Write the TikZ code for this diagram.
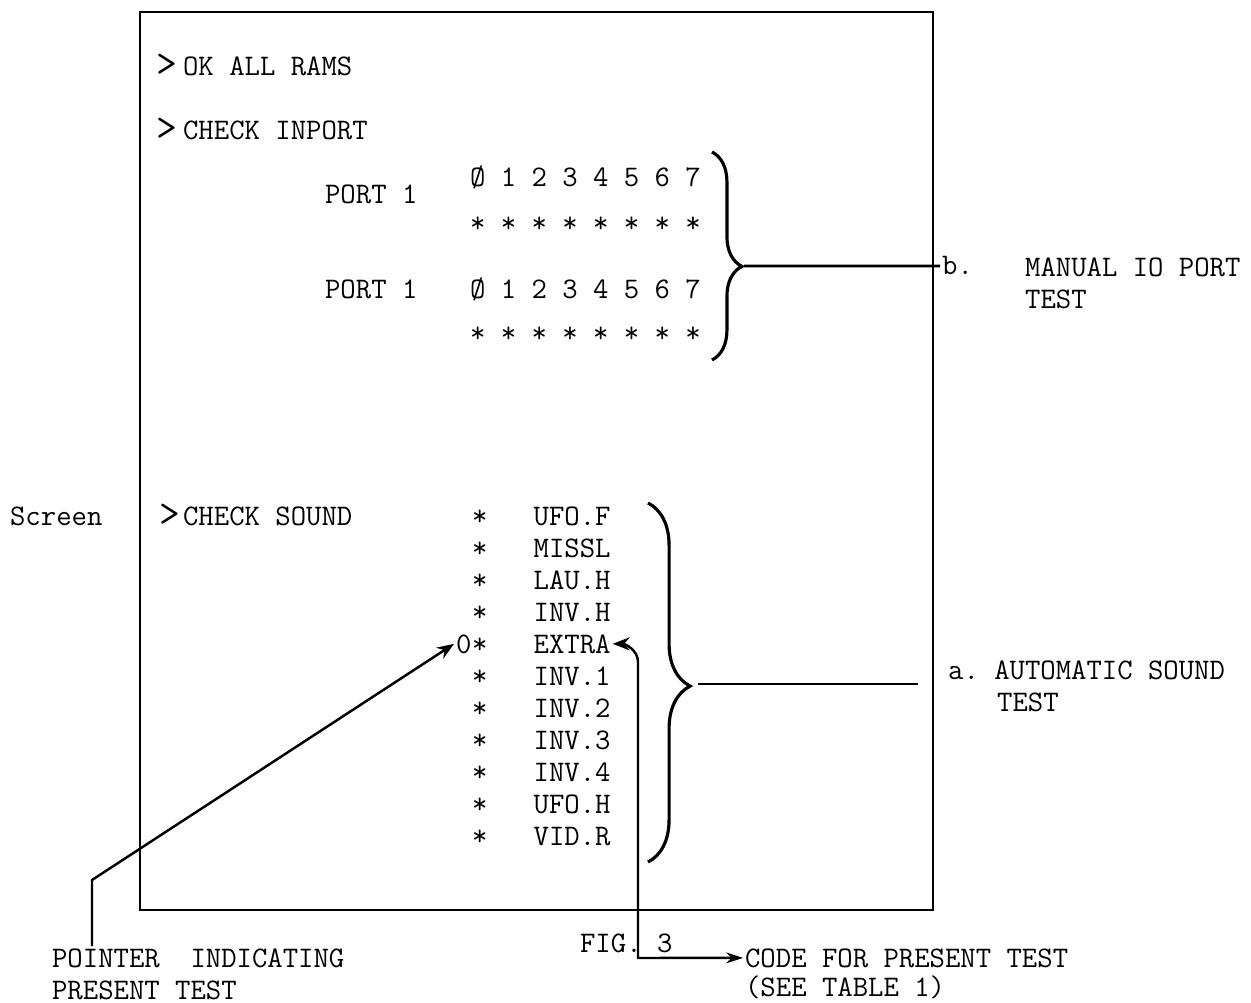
\documentclass[tikz,border=0pt]{standalone}
\usepackage{tikz}
\usetikzlibrary{arrows.meta,decorations.pathreplacing}
\tikzset{
    txt/.style={anchor=base west, inner sep=1pt,
        font=\fontsize{17}{20}\selectfont\ttfamily},
    prompt/.style={txt, font=\fontsize{23}{24}\selectfont\ttfamily},
    screenframe/.style={draw=black, line width=1.4pt},
    lead/.style={draw=black, line width=1.5pt},
    flow/.style={-{Stealth[length=3.4mm,width=2.6mm]}, line width=1.4pt},
    twoway/.style={{Stealth[length=3.4mm,width=2.2mm]}-{Stealth[length=3.4mm,width=2.6mm]}, line width=1.4pt},
    curly/.style={decorate, decoration={brace, amplitude=#1, aspect=0.55}, line width=1.8pt},
    curly/.default=17pt
}

\begin{document}
\begin{tikzpicture}[x=0.02cm,y=-0.02cm]
        \useasboundingbox (0,0) rectangle (1251,1003);
        \draw[screenframe] (140,12) rectangle (933,910);
        % screen contents
        \node[prompt] at (154,77) (okgt) {>};
        \node[txt] at (181,76) (ok) {OK ALL RAMS};
        \node[prompt] at (154,141) (inportgt) {>};
        \node[txt] at (181,140) (inport) {CHECK INPORT};
        \node[txt] at (323,204) (porta) {PORT 1};
        \node[txt] at (468,187) (bitsa) {Ø 1 2 3 4 5 6 7};
        \node[txt] at (468,233) (starsa) {* * * * * * * *};
        \node[txt] at (323,299) (portb) {PORT 1};
        \node[txt] at (468,299) (bitsb) {Ø 1 2 3 4 5 6 7};
        \node[txt] at (468,343) (starsb) {* * * * * * * *};
        \node[txt] at (8,525) (screen) {Screen};
        \node[prompt] at (157,526) (soundgt) {>};
        \node[txt] at (181,525) (sound) {CHECK SOUND};
        \node[txt] at (470,525) (ufof) {*\ \ \ UFO.F};
        \node[txt] at (470,557) (missl) {*\ \ \ MISSL};
        \node[txt] at (470,589) (lauh) {*\ \ \ LAU.H};
        \node[txt] at (470,621) (invh) {*\ \ \ INV.H};
        \node[txt] at (454,653) (zero) {0};
        \node[txt] at (470,653) (extra) {*\ \ \ EXTRA};
        \node[txt] at (470,685) (inva) {*\ \ \ INV.1};
        \node[txt] at (470,717) (invb) {*\ \ \ INV.2};
        \node[txt] at (470,749) (invc) {*\ \ \ INV.3};
        \node[txt] at (470,781) (invd) {*\ \ \ INV.4};
        \node[txt] at (470,813) (ufoh) {*\ \ \ UFO.H};
        \node[txt] at (470,845) (vidr) {*\ \ \ VID.R};
        % callouts
        \node[txt] at (940,275) (labb) {b.};
        \node[txt] at (1023,277) (manual) {MANUAL IO PORT};
        \node[txt] at (1023,309) (manualb) {TEST};
        \node[txt] at (946,679) (laba) {a.\ AUTOMATIC SOUND};
        \node[txt] at (995,711) (labab) {TEST};
        \node[txt] at (578,952) (fig) {FIG. 3};
        \node[txt] at (50,967) (ptr) {POINTER\ \ INDICATING};
        \node[txt] at (50,999) (ptrb) {PRESENT TEST};
        \node[txt] at (743,967) (code) {CODE FOR PRESENT TEST};
        \node[txt] at (743,996) (codeb) {(SEE TABLE 1)};
        % braces and leaders
        \draw[curly=17pt] (712,152) -- (712,360);
        \draw[curly=24pt, decoration={aspect=0.51}] (648,503) -- (648,862);
        \coordinate (porttip) at (744,266);
        \coordinate (soundtip) at (698,684);
        \coordinate (soundend) at (918,684);
        \draw[lead] (porttip) -- (labb.west);
        \draw[lead] (soundtip) -- (soundend);
        \coordinate (ptrbend) at (92,880);
        \draw[flow] (ptr.north -| ptrbend) -- (ptrbend) -- (zero.west);
        \coordinate (codebend) at (638,958);
        \coordinate (codetop) at (638,662);
        \draw[twoway] (code.west) -- (codebend) -- (codetop) to[out=90,in=0] (extra.east);
    \end{tikzpicture}
\end{document}
